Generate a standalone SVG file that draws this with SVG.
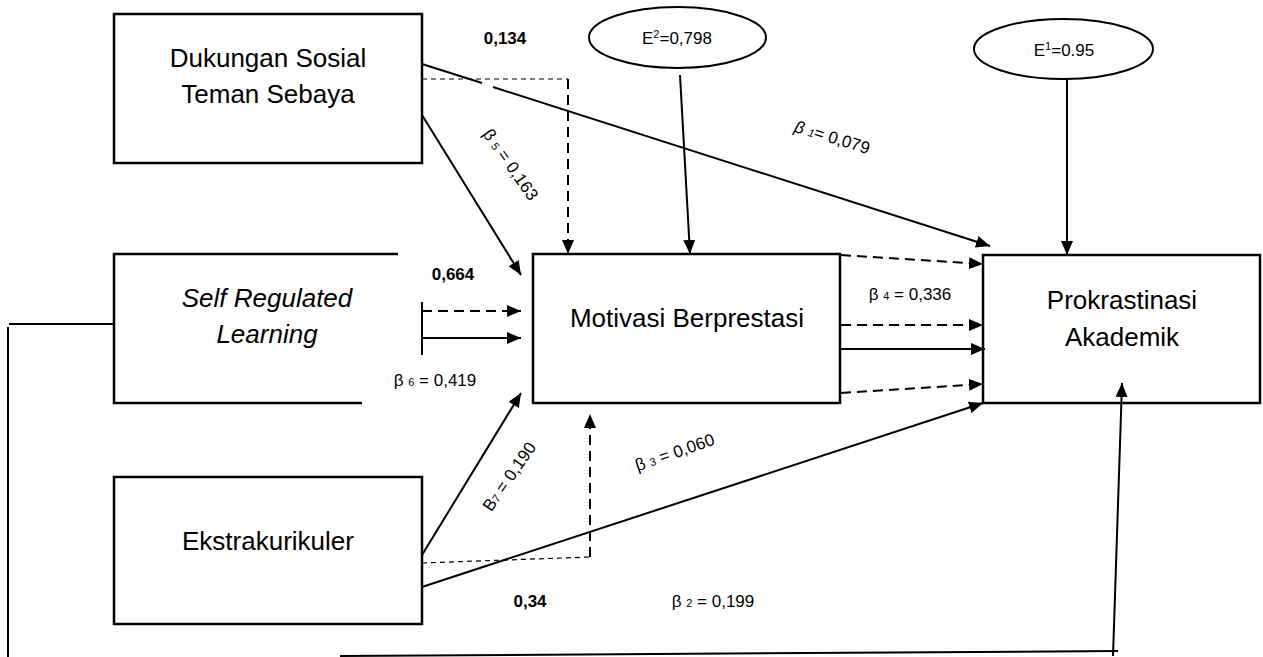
<svg xmlns="http://www.w3.org/2000/svg" width="1263" height="657" viewBox="0 0 1263 657">
<defs>
<style>
.box{fill:#fff;stroke:#000;stroke-width:2.5}
.ell{fill:#fff;stroke:#000;stroke-width:2}
.lbl{font-family:"Liberation Sans",Arial,sans-serif;font-size:26px;fill:#000;text-anchor:middle}
.sm{font-family:"Liberation Sans",Arial,sans-serif;font-size:17px;fill:#000}
.bd{font-family:"Liberation Sans",Arial,sans-serif;font-size:17px;font-weight:bold;fill:#000;text-anchor:middle}
.sub{font-size:11px}
.ln{stroke:#000;stroke-width:2;fill:none}
.dsh{stroke:#000;stroke-width:2;fill:none;stroke-dasharray:10,6}
.thin{stroke:#000;stroke-width:1.2;fill:none;stroke-dasharray:5,4}
</style>
<marker id="ah" viewBox="0 0 14 12" refX="14" refY="6" markerWidth="14" markerHeight="12" orient="auto" markerUnits="userSpaceOnUse">
<path d="M0,0 L14,6 L0,12z" fill="#000"/>
</marker>
</defs>
<rect width="1263" height="657" fill="#fff"/>

<g id="n-dukungan">
<rect class="box" x="114" y="14" width="308" height="149"/>
<text class="lbl" x="268" y="67">Dukungan Sosial</text>
<text class="lbl" x="268" y="103">Teman Sebaya</text>
</g>

<g id="n-srl">
<path class="box" d="M398,254 H114 V403 H362" fill="none"/>
<text class="lbl" x="267" y="307" font-style="italic">Self Regulated</text>
<text class="lbl" x="267" y="343" font-style="italic">Learning</text>
</g>

<g id="n-ekstra">
<rect class="box" x="114" y="477" width="308" height="147"/>
<text class="lbl" x="268" y="550">Ekstrakurikuler</text>
</g>

<g id="n-motivasi">
<rect class="box" x="533" y="254" width="307" height="149"/>
<text class="lbl" x="687" y="327">Motivasi Berprestasi</text>
</g>

<g id="n-prokrastinasi">
<rect class="box" x="983" y="255" width="277" height="148"/>
<text class="lbl" x="1122" y="309">Prokrastinasi</text>
<text class="lbl" x="1122" y="346">Akademik</text>
</g>

<g id="n-e2">
<ellipse class="ell" cx="677.5" cy="37.5" rx="88.5" ry="30.5"/>
<text class="sm" x="677" y="44" text-anchor="middle">E<tspan class="sub" dy="-6">2</tspan><tspan dy="6">=0,798</tspan></text>
</g>

<g id="n-e1">
<ellipse class="ell" cx="1063.5" cy="49" rx="89.5" ry="30"/>
<text class="sm" x="1064" y="56" text-anchor="middle">E<tspan class="sub" dy="-6">1</tspan><tspan dy="6">=0.95</tspan></text>
</g>

<g id="connectors">
<!-- outer feedback line -->
<path class="ln" d="M115,324 H9" stroke-width="1.5"/>
<path class="ln" d="M8,327 V657" stroke-width="1.5"/>
<path class="ln" d="M340,656 L1118,651" stroke-width="1.8"/>
<line class="ln" x1="1113" y1="656" x2="1122" y2="383" marker-end="url(#ah)"/>
<!-- error arrows -->
<line class="ln" x1="680" y1="75" x2="690" y2="254" marker-end="url(#ah)"/>
<line class="ln" x1="1067" y1="79" x2="1067" y2="255" marker-end="url(#ah)"/>
<!-- beta1 -->
<line class="ln" x1="422" y1="64" x2="482" y2="83"/>
<line class="ln" x1="493" y1="87" x2="990" y2="246" marker-end="url(#ah)"/>
<!-- 0,134 dashed -->
<path class="thin" d="M422,79 H568"/>
<line class="dsh" x1="568" y1="79" x2="568" y2="254" marker-end="url(#ah)"/>
<!-- beta5 -->
<line class="ln" x1="422" y1="115" x2="521" y2="275" marker-end="url(#ah)"/>
<!-- SRL arrows -->
<line class="ln" x1="422" y1="302" x2="422" y2="355" stroke-width="2.5"/>
<line class="dsh" x1="422" y1="311" x2="521" y2="311" marker-end="url(#ah)"/>
<line class="ln" x1="422" y1="338" x2="521" y2="338" marker-end="url(#ah)"/>
<!-- beta7 -->
<line class="ln" x1="422" y1="555" x2="521" y2="393" marker-end="url(#ah)"/>
<!-- 0,34 dashed -->
<path class="thin" d="M422,563 L590,557"/>
<line class="dsh" x1="590" y1="557" x2="590" y2="414" marker-end="url(#ah)"/>
<!-- beta3 -->
<line class="ln" x1="422" y1="587" x2="983" y2="403" marker-end="url(#ah)"/>
<!-- Motivasi -> Prokrastinasi -->
<line class="dsh" x1="841" y1="255" x2="983" y2="264" marker-end="url(#ah)"/>
<line class="dsh" x1="841" y1="325" x2="983" y2="325" marker-end="url(#ah)"/>
<line class="ln" x1="841" y1="349" x2="985" y2="349" marker-end="url(#ah)"/>
<line class="dsh" x1="841" y1="393" x2="983" y2="384" marker-end="url(#ah)"/>
</g>

<g id="labels">
<text class="bd" x="505" y="44">0,134</text>
<text class="bd" x="453" y="280">0,664</text>
<text class="bd" x="530" y="607">0,34</text>
<text class="sm" x="832" y="143" text-anchor="middle" transform="rotate(17 832 138)"><tspan font-style="italic">β </tspan><tspan class="sub" font-style="italic">1</tspan>= 0,079</text>
<text class="sm" x="510" y="170" text-anchor="middle" transform="rotate(55 510 165)">β <tspan class="sub">5</tspan> = 0,163</text>
<text class="sm" x="435" y="386" text-anchor="middle">β <tspan class="sub">6</tspan> = 0,419</text>
<text class="sm" x="510" y="482" text-anchor="middle" transform="rotate(-55 510 477)">B<tspan class="sub">7</tspan> = 0,190</text>
<text class="sm" x="675" y="458" text-anchor="middle" transform="rotate(-19 675 453)">β <tspan class="sub">3</tspan> = 0,060</text>
<text class="sm" x="713" y="607" text-anchor="middle">β <tspan class="sub">2</tspan> = 0,199</text>
<text class="sm" x="910" y="300" text-anchor="middle">β <tspan class="sub">4</tspan> = 0,336</text>
</g>
</svg>
